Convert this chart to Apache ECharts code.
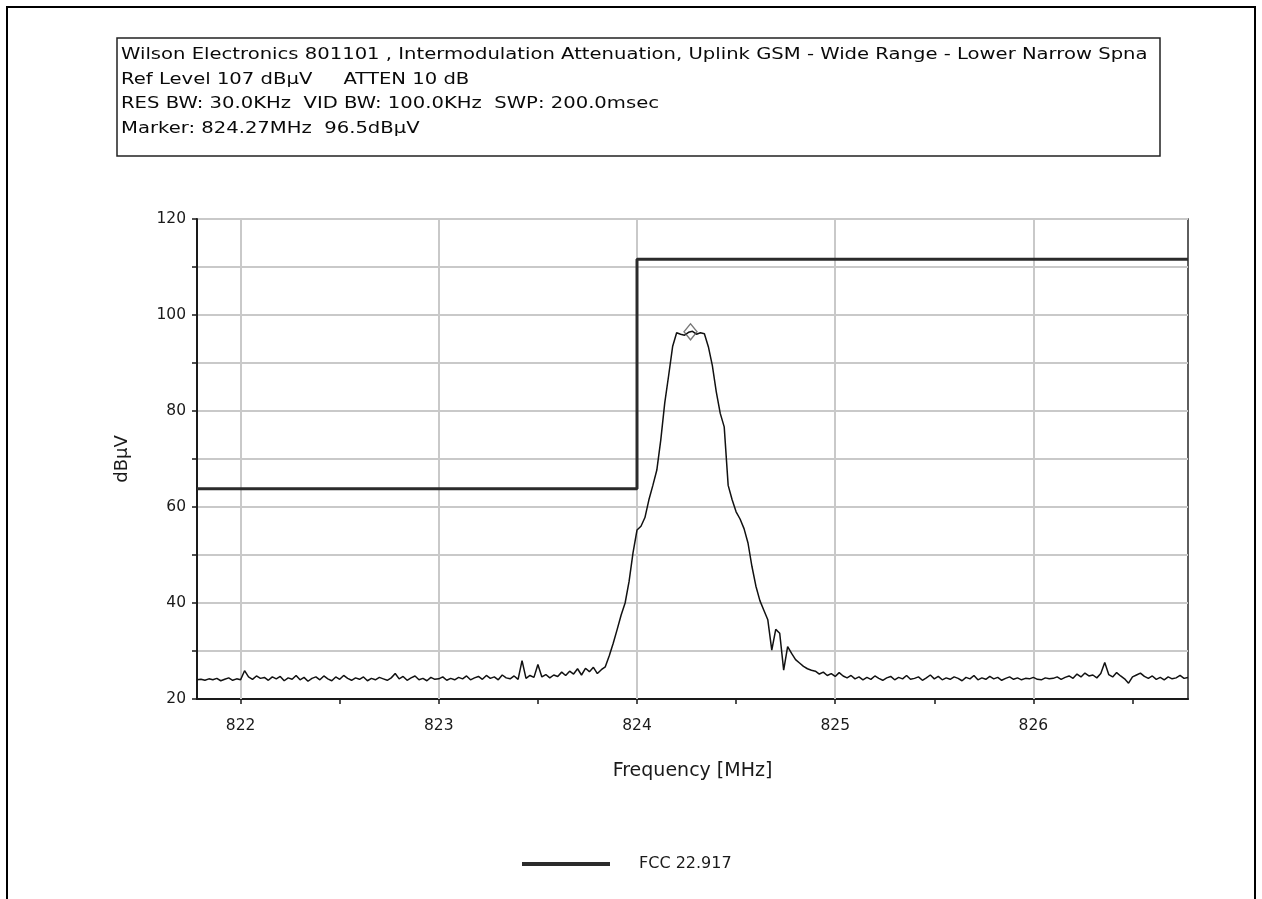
<!DOCTYPE html>
<html>
<head>
<meta charset="utf-8">
<script src="https://cdn.jsdelivr.net/npm/echarts@6/dist/echarts.min.js"></script>
<style>
  html, body { margin: 0; padding: 0; background: #fff; }
  #c { width: 1262px; height: 899px; }
</style>
</head>
<body>
<div id="c"></div>
<script>
// ---------- data ----------
const headerLines = [
  'Wilson Electronics 801101 , Intermodulation Attenuation, Uplink GSM - Wide Range - Lower Narrow Spna',
  'Ref Level 107 dB\u00b5V     ATTEN 10 dB',
  'RES BW: 30.0KHz  VID BW: 100.0KHz  SWP: 200.0msec',
  'Marker: 824.27MHz  96.5dB\u00b5V'
];
const xAxisName = 'Frequency [MHz]';
const yAxisName = 'dB\u00b5V';
const limitName = 'FCC 22.917';

const freqMin = 821.78;
const freqMax = 826.78;
const sweepStart = 821.78;   // MHz, first trace point
const sweepStep = 0.02;      // MHz between trace points

const xLabelValues = [822, 823, 824, 825, 826];
const xTickValues = [822, 822.5, 823, 823.5, 824, 824.5, 825, 825.5, 826, 826.5];
const yMin = 20, yMax = 120, yStep = 10;

// trace levels (dBµV)
const noiseLowLevels = [
  24.0, 24.1, 23.9, 24.2, 24.0, 24.3, 23.8, 24.1, 24.4, 23.9,
  24.2, 24.0, 25.9, 24.6, 24.1, 24.8, 24.3, 24.5, 23.9, 24.6,
  24.2, 24.7, 23.8, 24.4, 24.1, 24.9, 24.0, 24.5, 23.7, 24.3,
  24.6, 24.0, 24.8, 24.2, 23.8, 24.6, 24.1, 24.9, 24.3, 23.9,
  24.4, 24.1, 24.6, 23.8, 24.3, 24.0, 24.5, 24.2, 23.9, 24.4,
  25.3, 24.2, 24.7, 23.9, 24.4, 24.8, 24.0, 24.3, 23.8, 24.5,
  24.1, 24.2, 24.6, 23.9, 24.3, 24.0, 24.5, 24.2, 24.8, 24.0,
  24.4, 24.7, 24.1, 24.9, 24.3, 24.6, 24.0, 25.0, 24.4, 24.2,
  24.8, 24.1, 28.0, 24.3, 24.9, 24.5, 27.2, 24.6, 25.1, 24.4,
  25.0, 24.7, 25.6, 24.9, 25.8, 25.2, 26.3, 25.0, 26.4, 25.7,
  26.6, 25.3, 26.1
];
const carrierLevels = [
  26.7, 29.0, 31.6, 34.5, 37.5, 40.0, 44.5, 50.5, 55.2, 56.0,
  57.8, 61.5, 64.5, 67.7, 74.0, 81.7, 87.5, 93.5, 96.3, 96.0,
  95.8, 96.4, 96.6, 96.0, 96.3, 96.1, 93.4, 89.5, 84.0, 79.5,
  76.7, 64.5, 61.5, 59.0, 57.5, 55.5, 52.5, 47.6, 43.5, 40.5,
  38.5, 36.5, 30.2, 34.5, 33.7, 26.0, 30.9, 29.5, 28.2, 27.5,
  26.8, 26.3, 26.0
];
const noiseHighLevels = [
  25.8, 25.2, 25.6, 24.9, 25.3, 24.7, 25.5, 24.8, 24.4, 24.9,
  24.2, 24.6, 24.0, 24.5, 24.1, 24.8, 24.3, 23.9, 24.4, 24.7,
  24.0, 24.5, 24.2, 24.9, 24.1, 24.3, 24.6, 23.9, 24.4, 25.0,
  24.2, 24.7, 24.0, 24.4, 24.1, 24.6, 24.3, 23.8, 24.5, 24.2,
  24.9, 24.0, 24.4, 24.1, 24.7, 24.2, 24.5, 23.9, 24.3, 24.6,
  24.1, 24.4, 24.0, 24.3, 24.2, 24.5, 24.1, 24.0, 24.4, 24.2,
  24.3, 24.6, 24.1, 24.5, 24.8, 24.3, 25.2, 24.6, 25.4, 24.8,
  25.0, 24.4, 25.3, 27.6, 25.1, 24.6, 25.5, 24.8, 24.2, 23.3,
  24.6, 25.0, 25.4, 24.7, 24.3, 24.8, 24.1, 24.5, 24.0, 24.6,
  24.2, 24.4, 24.9, 24.3, 24.5
];

// FCC 22.917 limit line
const limitFreqs = [821.78, 824.0, 824.0, 826.78];
const limitLevels = [63.8, 63.8, 111.6, 111.6];

// marker
const markerFreq = 824.27;
const markerLevel = 96.5;

// ---------- build ----------
const traceLevels = noiseLowLevels.concat(carrierLevels, noiseHighLevels);
const traceData = traceLevels.map((v, i) => [+(sweepStart + sweepStep * i).toFixed(3), v]);
const limitData = limitFreqs.map((f, i) => [f, limitLevels[i]]);

const FONT = 'DejaVu Sans';
const TXT = '#1a1a1a';
const GRID = '#c9c9c9';

const chart = echarts.init(document.getElementById('c'));
chart.setOption({
  animation: false,
  backgroundColor: '#ffffff',
  textStyle: { fontFamily: FONT, color: TXT },
  grid: {
    left: 197, right: 74, top: 219, bottom: 200,
    show: true, borderColor: '#2a2a2a', borderWidth: 1.5, backgroundColor: 'transparent'
  },
  xAxis: {
    type: 'value', min: freqMin, max: freqMax,
    name: xAxisName, nameLocation: 'middle', nameGap: 63,
    nameTextStyle: { fontFamily: FONT, fontSize: 19, color: TXT },
    axisLine: { show: true, onZero: false, lineStyle: { color: '#1a1a1a', width: 2 } },
    axisTick: { show: true, customValues: xTickValues, length: 5, lineStyle: { color: '#1a1a1a', width: 1.5 } },
    axisLabel: { customValues: xLabelValues, fontSize: 15.5, color: TXT, margin: 19, fontFamily: FONT,
                 formatter: v => String(Math.round(v)) },
    splitLine: { show: false }
  },
  yAxis: {
    type: 'value', min: yMin, max: yMax, interval: yStep,
    name: yAxisName, nameLocation: 'middle', nameGap: 66, nameRotate: 90,
    nameTextStyle: { fontFamily: FONT, fontSize: 18, color: TXT },
    axisLine: { show: true, onZero: false, lineStyle: { color: '#1a1a1a', width: 2 } },
    axisTick: { show: true, length: 5, lineStyle: { color: '#1a1a1a', width: 1.5 } },
    axisLabel: { fontSize: 15.5, color: TXT, margin: 11, fontFamily: FONT,
                 formatter: v => (v % 20 === 0 ? String(v) : '') },
    splitLine: { show: true, lineStyle: { color: GRID, width: 2 } }
  },
  legend: {
    data: [limitName], left: 517, top: 851, icon: 'rect',
    itemWidth: 88, itemHeight: 4,
    textStyle: { fontFamily: FONT, fontSize: 16, color: TXT, padding: [0, 0, 0, 24] }
  },
  series: [
    {
      name: 'Grid', type: 'line', data: [], z: 1, silent: true,
      markLine: {
        z: 1, silent: true, symbol: ['none', 'none'], label: { show: false }, animation: false,
        lineStyle: { color: GRID, width: 2, type: 'solid' },
        emphasis: { disabled: true },
        data: xLabelValues.map(v => ({ xAxis: v }))
      }
    },
    {
      name: limitName, type: 'line', data: limitData, showSymbol: false, symbol: 'none',
      lineStyle: { color: '#2b2b2b', width: 3 }, itemStyle: { color: '#2b2b2b' }, z: 3
    },
    {
      name: 'Trace', type: 'line', data: traceData, showSymbol: false, symbol: 'none',
      lineStyle: { color: '#111111', width: 1.5 }, z: 4
    },
    {
      name: 'Marker', type: 'scatter', data: [[markerFreq, markerLevel]],
      symbol: 'diamond', symbolSize: [13, 16],
      itemStyle: { color: 'rgba(255,255,255,0)', borderColor: '#555', borderWidth: 1.4 }, z: 5
    }
  ],
  graphic: [
    { type: 'rect', shape: { x: 7, y: 7, width: 1248, height: 900 },
      style: { fill: 'none', stroke: '#000', lineWidth: 2 }, silent: true },
    { type: 'rect', shape: { x: 117, y: 38, width: 1043, height: 118 },
      style: { fill: '#fff', stroke: '#222', lineWidth: 1.5 }, silent: true },
  ].concat(headerLines.map((t, i) => ({
    type: 'text', x: 121, y: 55 + i * 24.5, scaleX: 1.225, silent: true,
    style: { text: t, font: '16px "' + FONT + '"', fill: '#0a0a0a', verticalAlign: 'middle', align: 'left' }
  })))
});
</script>
</body>
</html>
